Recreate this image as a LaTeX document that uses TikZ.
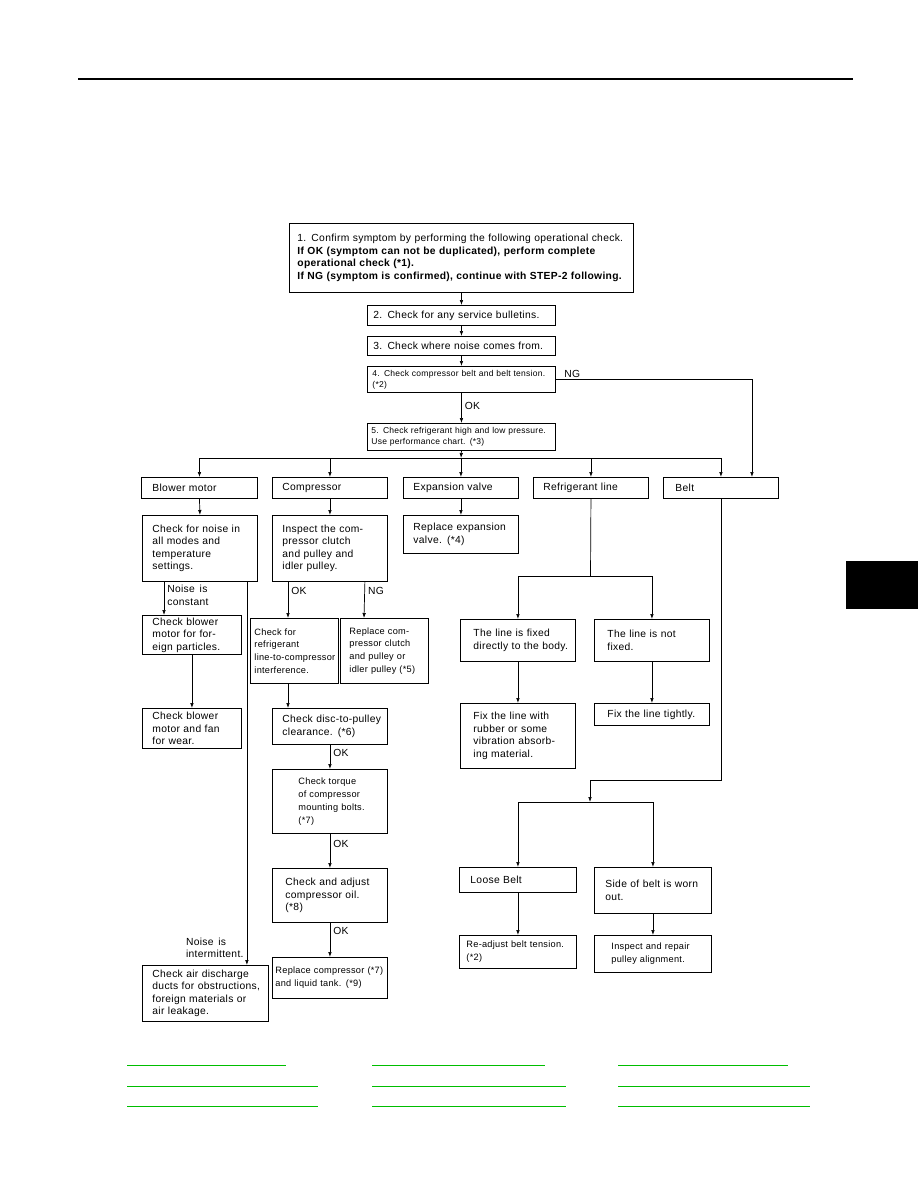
\documentclass[tikz,border=0pt]{standalone}
\usepackage{fontspec}
\setmainfont{Liberation Sans}[LetterSpace=3]
\usetikzlibrary{arrows.meta}
\definecolor{linkgreen}{RGB}{0,190,0}
\newcommand\mainsz{\fontsize{10.3}{12.5}\selectfont\spaceskip=4.8pt plus 1pt minus 1pt\relax}
\newcommand\smallsz{\fontsize{9.2}{12.8}\selectfont\spaceskip=2.9pt plus 1pt minus .5pt\relax}
\newcommand\tightsz{\fontsize{8.5}{11}\selectfont\spaceskip=2.8pt plus 1pt minus .5pt\relax}

\begin{document}
\begin{tikzpicture}[x=1pt,y=-1pt]

      \tikzset{box/.style={draw, line width=0.9pt, anchor=north west, inner xsep=2pt, inner ysep=1pt, align=left, font=\mainsz},
               lpad/.style={execute at begin node={\leftskip=#1\relax}},
               arr/.style={draw, line width=0.7pt, -{Latex[length=5pt,width=3.6pt]}},
               lbl/.style={font=\mainsz, inner sep=3pt, align=left}}
      \useasboundingbox (0,0) rectangle (918,1188);
% Page marks
      \draw[line width=2pt] (78,79) -- (853,79);
      \fill (846,561) rectangle (918,609);
% Steps 1-5
      \node[box, minimum width=344pt, minimum height=69pt, text width=340pt, lpad=6pt] (s1) at (289,223)
           {1. Confirm symptom by performing the following operational check.\\
            \textbf{If OK (symptom can not be duplicated), perform complete}\\
            \textbf{operational check (*1).}\\
            \textbf{If NG (symptom is confirmed), continue with STEP-2 following.}};
      \node[box, minimum width=188pt, minimum height=20pt, text width=184pt, lpad=4pt] (s2) at (367,305) {2. Check for any service bulletins.};
      \node[box, minimum width=188pt, minimum height=19pt, text width=184pt, lpad=4pt] (s3) at (367,336) {3. Check where noise comes from.};
      \node[box, font=\tightsz, minimum width=188pt, minimum height=26pt, text width=184pt, lpad=3pt] (s4) at (367,366)
           {4. Check compressor belt and belt tension.\\(*2)};
      \node[box, font=\tightsz, minimum width=188pt, minimum height=27pt, text width=184pt, lpad=2pt] (s5) at (367,423)
           {5. Check refrigerant high and low pressure.\\Use performance chart. (*3)};
      \coordinate (split) at (461,458);
% Noise sources
      \node[box, minimum width=116pt, minimum height=21pt, text width=112pt, lpad=9pt] (blower) at (141,477) {Blower motor};
      \node[box, minimum width=115pt, minimum height=21pt, text width=111pt, lpad=8pt] (comp) at (272,477) {Compressor};
      \node[box, minimum width=115pt, minimum height=21pt, text width=111pt, lpad=8pt] (expv) at (403,477) {Expansion valve};
      \node[box, minimum width=115pt, minimum height=21pt, text width=111pt, lpad=8pt] (refl) at (533,477) {Refrigerant line};
      \node[box, minimum width=115pt, minimum height=21pt, text width=111pt, lpad=10pt] (belt) at (663,477) {Belt};
% Blower motor
      \node[box, minimum width=115pt, minimum height=66pt, text width=111pt, lpad=8pt] (noise) at (142,515)
           {Check for noise in\\all modes and\\temperature\\settings.};
      \node[box, minimum width=99pt, minimum height=39pt, text width=95pt, lpad=8pt] (foreign) at (142,615)
           {Check blower\\motor for for-\\eign particles.};
      \node[box, minimum width=99pt, minimum height=40pt, text width=95pt, lpad=8pt] (wear) at (142,708)
           {Check blower\\motor and fan\\for wear.};
      \node[box, minimum width=126pt, minimum height=56pt, text width=122pt, lpad=8pt] (airduct) at (142,965)
           {Check air discharge\\ducts for obstructions,\\foreign materials or\\air leakage.};
% Compressor
      \node[box, minimum width=115pt, minimum height=66pt, text width=111pt, lpad=8pt] (inspect) at (272,515)
           {Inspect the com-\\pressor clutch\\and pulley and\\idler pulley.};
      \node[box, font=\smallsz, minimum width=88pt, minimum height=65pt, text width=84pt, lpad=2pt] (interf) at (250,618)
           {Check for\\refrigerant\\line-to-compressor\\interference.};
      \node[box, font=\smallsz, minimum width=88pt, minimum height=65pt, text width=84pt, lpad=7pt] (clutch) at (340,618)
           {Replace com-\\pressor clutch\\and pulley or\\idler pulley (*5)};
      \node[box, minimum width=115pt, minimum height=36pt, text width=111pt, lpad=8pt] (disc) at (272,708)
           {Check disc-to-pulley\\clearance. (*6)};
      \node[box, font=\smallsz, minimum width=115pt, minimum height=64pt, text width=111pt, lpad=24pt] (torque) at (272,769)
           {Check torque\\of compressor\\mounting bolts.\\(*7)};
      \node[box, minimum width=115pt, minimum height=54pt, text width=111pt, lpad=11pt] (oil) at (272,868)
           {Check and adjust\\compressor oil.\\(*8)};
      \node[box, font=\smallsz, minimum width=115pt, minimum height=41pt, text width=111pt, lpad=1pt] (replcomp) at (272,957)
           {Replace compressor (*7)\\and liquid tank. (*9)};
% Expansion valve
      \node[box, minimum width=115pt, minimum height=38pt, text width=111pt, lpad=8pt] (replexp) at (403,515)
           {Replace expansion\\valve. (*4)};
% Refrigerant line
      \coordinate (rsplit) at (590.5,576);
      \node[box, minimum width=115pt, minimum height=42pt, text width=111pt, lpad=11pt] (fixed) at (460,619)
           {The line is fixed\\directly to the body.};
      \node[box, minimum width=115pt, minimum height=42pt, text width=111pt, lpad=11pt] (notfixed) at (594,619)
           {The line is not\\fixed.};
      \node[box, minimum width=115pt, minimum height=65pt, text width=111pt, lpad=11pt] (fixline) at (460,703)
           {Fix the line with\\rubber or some\\vibration absorb-\\ing material.};
      \node[box, minimum width=115pt, minimum height=22pt, text width=111pt, lpad=11pt] (tight) at (594,703)
           {Fix the line tightly.};
% Belt
      \coordinate (bcorner) at (590,780);
      \coordinate (bsplit) at (590,802);
      \node[box, minimum width=117pt, minimum height=25pt, text width=113pt, lpad=9pt] (loose) at (459,867) {Loose Belt};
      \node[box, minimum width=117pt, minimum height=46pt, text width=113pt, lpad=9pt] (worn) at (594,867)
           {Side of belt is worn\\out.};
      \node[box, font=\smallsz, minimum width=117pt, minimum height=33pt, text width=113pt, lpad=5pt] (readj) at (459,935)
           {Re-adjust belt tension.\\(*2)};
      \node[box, font=\smallsz, minimum width=117pt, minimum height=37pt, text width=113pt, lpad=15pt] (pulley) at (594,935)
           {Inspect and repair\\pulley alignment.};
%Edges
      \path (s1.south) edge[arr] (s2.north);
      \path (s2.south) edge[arr] (s3.north);
      \path (s3.south) edge[arr] (s4.north);
      \path (s4.south) edge[arr] node[lbl, right, pos=0.45] {OK} (s5.north);
      \path (s5.south) edge[arr] (split);
      \draw[arr] (s4.east) node[lbl, anchor=west, xshift=5pt, yshift=5pt] (ng) {NG} -| ([xshift=31pt]belt.north);
      \draw[line width=0.7pt] (blower.north |- split) -- (belt.north |- split);
      \path (blower.north |- split) edge[arr] (blower.north);
      \path (comp.north |- split) edge[arr] (comp.north);
      \path (expv.north |- split) edge[arr] (expv.north);
      \path (refl.north |- split) edge[arr] (refl.north);
      \path (belt.north |- split) edge[arr] (belt.north);

      \path (blower.south) edge[arr] (noise.north);
      \path ([xshift=22pt]noise.south west) edge[arr] node[lbl, right, pos=0.4] {Noise is\\constant} ([xshift=22pt]foreign.north west);
      \path ([xshift=-11pt]noise.south east) edge[arr] node[lbl, left, pos=0.955] {Noise is\\intermittent.} ([xshift=-22pt]airduct.north east);
      \path (foreign.south) edge[arr] (wear.north);

      \path (comp.south) edge[arr] (inspect.north);
      \path ([xshift=16pt]inspect.south west) edge[arr] node[lbl, right, pos=0.25] {OK} ([xshift=38pt]interf.north west);
      \path ([xshift=-23pt]inspect.south east) edge[arr] node[lbl, right, pos=0.25] {NG} ([xshift=24pt]clutch.north west);
      \path ([xshift=38pt]interf.south west) edge[arr] ([xshift=16pt]disc.north west);
      \path (disc.south) edge[arr] node[lbl, right, pos=0.35] {OK} (torque.north);
      \path (torque.south) edge[arr] node[lbl, right, pos=0.3] {OK} (oil.north);
      \path (oil.south) edge[arr] node[lbl, right, pos=0.25] {OK} (replcomp.north);

      \path (expv.south) edge[arr] (replexp.north);

      \draw[line width=0.7pt] (refl.south) -- (rsplit);
      \draw[arr] (rsplit) -| (fixed.north);
      \draw[arr] (rsplit) -| (notfixed.north);
      \path (fixed.south) edge[arr] (fixline.north);
      \path (notfixed.south) edge[arr] (tight.north);

      \draw[arr] (belt.south) |- (bcorner) -- (bsplit);
      \draw[arr] (bsplit) -| (loose.north);
      \draw[arr] (bsplit) -| (worn.north);
      \path (loose.south) edge[arr] (readj.north);
      \path (worn.south) edge[arr] (pulley.north);
% Link lines
      \draw[linkgreen, line width=1pt] (127,1065) -- (286,1065) (372,1065) -- (545,1065) (618,1065) -- (788,1065)
                                       (127,1086) -- (318,1086) (372,1086) -- (566,1086) (618,1086) -- (810,1086)
                                       (127,1106) -- (318,1106) (372,1106) -- (566,1106) (618,1106) -- (810,1106);

\end{tikzpicture}
\end{document}
